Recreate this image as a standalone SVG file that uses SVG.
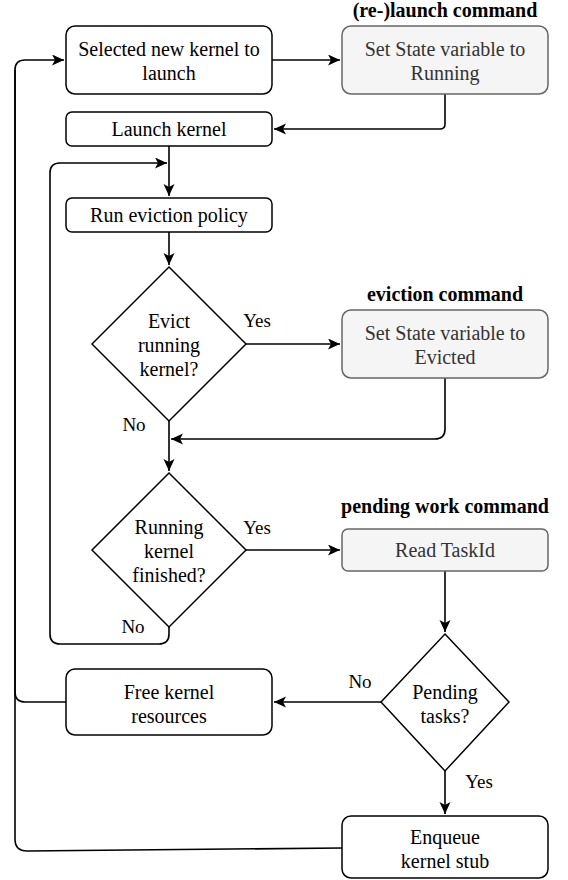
<svg xmlns="http://www.w3.org/2000/svg" width="568" height="880" viewBox="0 0 568 880">
<defs>
<marker id="ah" markerUnits="userSpaceOnUse" markerWidth="14" markerHeight="12" refX="12" refY="5.5" orient="auto">
<path d="M0,0 L12,5.5 L0,11 L3,5.5 z" fill="#000000"/>
</marker>
</defs>
<rect width="568" height="880" fill="#ffffff"/>
<g id="connectors" fill="none" stroke="#000000" stroke-width="1.6">
<path d="M272,60 H340" marker-end="url(#ah)"/>
<path d="M445,94 V124 Q445,129 440,129 H274" marker-end="url(#ah)"/>
<path d="M169,146 V196" marker-end="url(#ah)"/>
<path d="M169,232 V265" marker-end="url(#ah)"/>
<path d="M246,344 H340" marker-end="url(#ah)"/>
<path d="M445,378 V429 Q445,439 435,439 H171" marker-end="url(#ah)"/>
<path d="M169,421 V471" marker-end="url(#ah)"/>
<path d="M246,550 H340" marker-end="url(#ah)"/>
<path d="M169,627 V634 Q169,644 159,644 H60 Q50,644 50,634 V173 Q50,163 60,163 H167" marker-end="url(#ah)"/>
<path d="M445,571 V632" marker-end="url(#ah)"/>
<path d="M381,702 H274" marker-end="url(#ah)"/>
<path d="M445,771 V814" marker-end="url(#ah)"/>
<path d="M66,702 H25 Q15,702 15,692 V70 Q15,60 25,60 H64" marker-end="url(#ah)"/>
<path d="M342,848 L27,851 Q15,851 15,839 V70"/>
</g>
<g id="labels" font-family="Liberation Serif" font-size="19" text-anchor="middle" fill="#000000">
<text x="257" y="327">Yes</text>
<text x="134" y="431">No</text>
<text x="257" y="534">Yes</text>
<text x="133" y="633">No</text>
<text x="360" y="688">No</text>
<text x="479" y="788">Yes</text>
</g>
<g font-family="Liberation Serif" font-size="20" text-anchor="middle" fill="#000000">
<g id="selected">
<rect x="66" y="26" width="206" height="68" rx="9" fill="#ffffff" stroke="#000000" stroke-width="1.5"/>
<text x="169" y="56">Selected new kernel to</text>
<text x="169" y="80">launch</text>
</g>
<g id="relaunch">
<text x="445" y="17" font-weight="bold">(re-)launch command</text>
<rect x="342" y="26" width="206" height="68" rx="9" fill="#f5f5f5" stroke="#666666" stroke-width="1.5"/>
<text x="445" y="56" fill="#333333">Set State variable to</text>
<text x="445" y="80" fill="#333333">Running</text>
</g>
<g id="launch">
<rect x="66" y="112" width="206" height="34" rx="6" fill="#ffffff" stroke="#000000" stroke-width="1.5"/>
<text x="169" y="136">Launch kernel</text>
</g>
<g id="evictpolicy">
<rect x="66" y="198" width="206" height="34" rx="6" fill="#ffffff" stroke="#000000" stroke-width="1.5"/>
<text x="169" y="222">Run eviction policy</text>
</g>
<g id="evictq">
<polygon points="169,267 246,344 169,421 92,344" fill="#ffffff" stroke="#000000" stroke-width="1.5"/>
<text x="169" y="328">Evict</text>
<text x="169" y="352">running</text>
<text x="169" y="376">kernel?</text>
</g>
<g id="evicted">
<text x="445" y="301" font-weight="bold">eviction command</text>
<rect x="342" y="310" width="206" height="68" rx="9" fill="#f5f5f5" stroke="#666666" stroke-width="1.5"/>
<text x="445" y="340" fill="#333333">Set State variable to</text>
<text x="445" y="364" fill="#333333">Evicted</text>
</g>
<g id="finishedq">
<polygon points="169,473 246,550 169,627 92,550" fill="#ffffff" stroke="#000000" stroke-width="1.5"/>
<text x="169" y="534">Running</text>
<text x="169" y="558">kernel</text>
<text x="169" y="582">finished?</text>
</g>
<g id="readtask">
<text x="445" y="513" font-weight="bold">pending work command</text>
<rect x="342" y="529" width="206" height="42" rx="6" fill="#f5f5f5" stroke="#666666" stroke-width="1.5"/>
<text x="445" y="557" fill="#333333">Read TaskId</text>
</g>
<g id="pendingq">
<polygon points="445,634 509,702 445,771 381,702" fill="#ffffff" stroke="#000000" stroke-width="1.5"/>
<text x="445" y="699">Pending</text>
<text x="445" y="723">tasks?</text>
</g>
<g id="free">
<rect x="66" y="669" width="206" height="66" rx="9" fill="#ffffff" stroke="#000000" stroke-width="1.5"/>
<text x="169" y="699">Free kernel</text>
<text x="169" y="723">resources</text>
</g>
<g id="enqueue">
<rect x="342" y="816" width="206" height="62" rx="9" fill="#ffffff" stroke="#000000" stroke-width="1.5"/>
<text x="445" y="844">Enqueue</text>
<text x="445" y="868">kernel stub</text>
</g>
</g>
</svg>
